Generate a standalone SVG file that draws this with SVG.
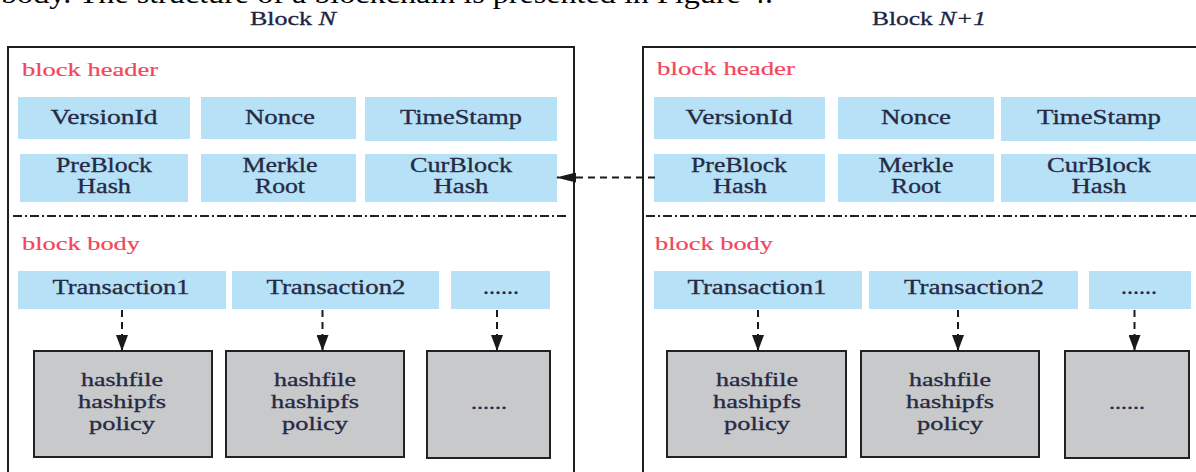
<svg xmlns="http://www.w3.org/2000/svg" width="1196" height="472" viewBox="0 0 1196 472">
<style>
text{font-family:"Liberation Serif","Times New Roman",serif;}
.cap{font-size:28px;fill:#000;}
.title{font-size:19px;fill:#1d2443;stroke:#1d2443;stroke-width:0.3;text-anchor:middle;}
.sec{font-size:19px;fill:#f2475b;stroke:#f2475b;stroke-width:0.2;}
.lbl{font-size:20px;fill:#262a44;stroke:#262a44;stroke-width:0.3;text-anchor:middle;}
.gl{font-size:18px;fill:#262a44;stroke:#262a44;stroke-width:0.3;text-anchor:middle;}
.block{fill:#fff;stroke:#1e1e1e;stroke-width:2;}
.blue{fill:#b7e1f7;}
.gray{fill:#c8c9cb;stroke:#222;stroke-width:2;}
.sep{stroke:#222;stroke-width:2;stroke-dasharray:9 3 2 3;fill:none;}
.dash{stroke:#1a1a1a;stroke-width:2;stroke-dasharray:7 5;fill:none;}
</style>
<defs>
<marker id="arrowH" markerUnits="userSpaceOnUse" markerWidth="20" markerHeight="10" refX="19" refY="5" orient="auto" viewBox="0 0 20 10">
<path d="M0,0 L20,5 L0,10 Z" fill="#1a1a1a"/>
</marker>
<marker id="arrowV" markerUnits="userSpaceOnUse" markerWidth="16" markerHeight="12" refX="15" refY="6" orient="auto" viewBox="0 0 16 12">
<path d="M0,0 L16,6 L0,12 Z" fill="#1a1a1a"/>
</marker>
</defs>

<text class="cap" x="1" y="3" textLength="772" lengthAdjust="spacingAndGlyphs">body. The structure of a blockchain is presented in Figure 4.</text>

<g id="blockN">
<text class="title" x="293" y="25" textLength="86" lengthAdjust="spacingAndGlyphs">Block <tspan font-style="italic">N</tspan></text>
<rect class="block" x="8" y="47" width="566" height="440"/>
<text class="sec" x="22" y="76" textLength="136" lengthAdjust="spacingAndGlyphs">block header</text>
<line class="sep" x1="13" y1="216" x2="569" y2="216"/>
<text class="sec" x="22" y="250" textLength="118" lengthAdjust="spacingAndGlyphs">block body</text>
</g>

<g id="n-versionid"><rect class="blue" x="18" y="97" width="172" height="42"/><text class="lbl" x="104" y="124" textLength="107" lengthAdjust="spacingAndGlyphs">VersionId</text></g>
<g id="n-nonce"><rect class="blue" x="201" y="97" width="155" height="42"/><text class="lbl" x="280" y="124" textLength="70" lengthAdjust="spacingAndGlyphs">Nonce</text></g>
<g id="n-timestamp"><rect class="blue" x="365" y="97" width="192" height="44"/><text class="lbl" x="461" y="124" textLength="122" lengthAdjust="spacingAndGlyphs">TimeStamp</text></g>
<g id="n-preblock"><rect class="blue" x="20" y="154" width="168" height="48"/><text class="lbl" x="104" y="172" textLength="96" lengthAdjust="spacingAndGlyphs">PreBlock</text><text class="lbl" x="104" y="193" textLength="54" lengthAdjust="spacingAndGlyphs">Hash</text></g>
<g id="n-merkle"><rect class="blue" x="201" y="154" width="155" height="48"/><text class="lbl" x="280" y="172" textLength="75" lengthAdjust="spacingAndGlyphs">Merkle</text><text class="lbl" x="280" y="193" textLength="50" lengthAdjust="spacingAndGlyphs">Root</text></g>
<g id="n-curblock"><rect class="blue" x="365" y="154" width="192" height="48"/><text class="lbl" x="461" y="172" textLength="102" lengthAdjust="spacingAndGlyphs">CurBlock</text><text class="lbl" x="461" y="193" textLength="55" lengthAdjust="spacingAndGlyphs">Hash</text></g>
<g id="n-tx1"><rect class="blue" x="18" y="271" width="208" height="38"/><text class="lbl" x="121" y="294" textLength="137" lengthAdjust="spacingAndGlyphs">Transaction1</text></g>
<g id="n-tx2"><rect class="blue" x="232" y="271" width="207" height="38"/><text class="lbl" x="336" y="294" textLength="139" lengthAdjust="spacingAndGlyphs">Transaction2</text></g>
<g id="n-txmore"><rect class="blue" x="451" y="271" width="99" height="38"/><text class="lbl" x="501" y="294" textLength="36" lengthAdjust="spacingAndGlyphs">......</text></g>
<g id="n-data1"><rect class="gray" x="34" y="351" width="178" height="106"/><text class="gl" x="122" y="386" textLength="82" lengthAdjust="spacingAndGlyphs">hashfile</text><text class="gl" x="122" y="408" textLength="88" lengthAdjust="spacingAndGlyphs">hashipfs</text><text class="gl" x="122" y="430" textLength="66" lengthAdjust="spacingAndGlyphs">policy</text></g>
<g id="n-data2"><rect class="gray" x="226" y="351" width="178" height="106"/><text class="gl" x="315" y="386" textLength="82" lengthAdjust="spacingAndGlyphs">hashfile</text><text class="gl" x="315" y="408" textLength="88" lengthAdjust="spacingAndGlyphs">hashipfs</text><text class="gl" x="315" y="430" textLength="66" lengthAdjust="spacingAndGlyphs">policy</text></g>
<g id="n-data3"><rect class="gray" x="427" y="351" width="123" height="107"/><text class="gl" x="489" y="409" textLength="36" lengthAdjust="spacingAndGlyphs">......</text></g>

<g id="blockN1">
<text class="title" x="929" y="25" textLength="114" lengthAdjust="spacingAndGlyphs">Block <tspan font-style="italic">N+1</tspan></text>
<rect class="block" x="643" y="47" width="600" height="440"/>
<text class="sec" x="657" y="75" textLength="138" lengthAdjust="spacingAndGlyphs">block header</text>
<line class="sep" x1="646" y1="216" x2="1196" y2="216"/>
<text class="sec" x="655" y="250" textLength="118" lengthAdjust="spacingAndGlyphs">block body</text>
</g>

<g id="m-versionid"><rect class="blue" x="654" y="97" width="171" height="42"/><text class="lbl" x="739" y="124" textLength="107" lengthAdjust="spacingAndGlyphs">VersionId</text></g>
<g id="m-nonce"><rect class="blue" x="838" y="97" width="156" height="42"/><text class="lbl" x="916" y="124" textLength="70" lengthAdjust="spacingAndGlyphs">Nonce</text></g>
<g id="m-timestamp"><rect class="blue" x="1001" y="97" width="200" height="44"/><text class="lbl" x="1099" y="124" textLength="124" lengthAdjust="spacingAndGlyphs">TimeStamp</text></g>
<g id="m-preblock"><rect class="blue" x="654" y="154" width="171" height="48"/><text class="lbl" x="739" y="172" textLength="96" lengthAdjust="spacingAndGlyphs">PreBlock</text><text class="lbl" x="740" y="193" textLength="54" lengthAdjust="spacingAndGlyphs">Hash</text></g>
<g id="m-merkle"><rect class="blue" x="838" y="154" width="156" height="48"/><text class="lbl" x="916" y="172" textLength="75" lengthAdjust="spacingAndGlyphs">Merkle</text><text class="lbl" x="916" y="193" textLength="50" lengthAdjust="spacingAndGlyphs">Root</text></g>
<g id="m-curblock"><rect class="blue" x="1001" y="154" width="200" height="48"/><text class="lbl" x="1099" y="172" textLength="104" lengthAdjust="spacingAndGlyphs">CurBlock</text><text class="lbl" x="1099" y="193" textLength="55" lengthAdjust="spacingAndGlyphs">Hash</text></g>
<g id="m-tx1"><rect class="blue" x="654" y="271" width="208" height="38"/><text class="lbl" x="757" y="294" textLength="139" lengthAdjust="spacingAndGlyphs">Transaction1</text></g>
<g id="m-tx2"><rect class="blue" x="869" y="271" width="209" height="38"/><text class="lbl" x="974" y="294" textLength="140" lengthAdjust="spacingAndGlyphs">Transaction2</text></g>
<g id="m-txmore"><rect class="blue" x="1089" y="271" width="102" height="38"/><text class="lbl" x="1139" y="294" textLength="36" lengthAdjust="spacingAndGlyphs">......</text></g>
<g id="m-data1"><rect class="gray" x="667" y="351" width="179" height="106"/><text class="gl" x="757" y="386" textLength="82" lengthAdjust="spacingAndGlyphs">hashfile</text><text class="gl" x="757" y="408" textLength="88" lengthAdjust="spacingAndGlyphs">hashipfs</text><text class="gl" x="757" y="430" textLength="66" lengthAdjust="spacingAndGlyphs">policy</text></g>
<g id="m-data2"><rect class="gray" x="861" y="351" width="178" height="106"/><text class="gl" x="950" y="386" textLength="82" lengthAdjust="spacingAndGlyphs">hashfile</text><text class="gl" x="950" y="408" textLength="88" lengthAdjust="spacingAndGlyphs">hashipfs</text><text class="gl" x="950" y="430" textLength="66" lengthAdjust="spacingAndGlyphs">policy</text></g>
<g id="m-data3"><rect class="gray" x="1065" y="351" width="124" height="107"/><text class="gl" x="1127" y="409" textLength="36" lengthAdjust="spacingAndGlyphs">......</text></g>

<g id="connectors">
<line class="dash" x1="655" y1="177.5" x2="557" y2="177.5" marker-end="url(#arrowH)"/>
<line class="dash" x1="122" y1="310" x2="122" y2="350" marker-end="url(#arrowV)"/>
<line class="dash" x1="322.5" y1="310" x2="322.5" y2="350" marker-end="url(#arrowV)"/>
<line class="dash" x1="497" y1="310" x2="497" y2="350" marker-end="url(#arrowV)"/>
<line class="dash" x1="758" y1="310" x2="758" y2="350" marker-end="url(#arrowV)"/>
<line class="dash" x1="958" y1="310" x2="958" y2="350" marker-end="url(#arrowV)"/>
<line class="dash" x1="1134.5" y1="310" x2="1134.5" y2="350" marker-end="url(#arrowV)"/>
</g>
</svg>
